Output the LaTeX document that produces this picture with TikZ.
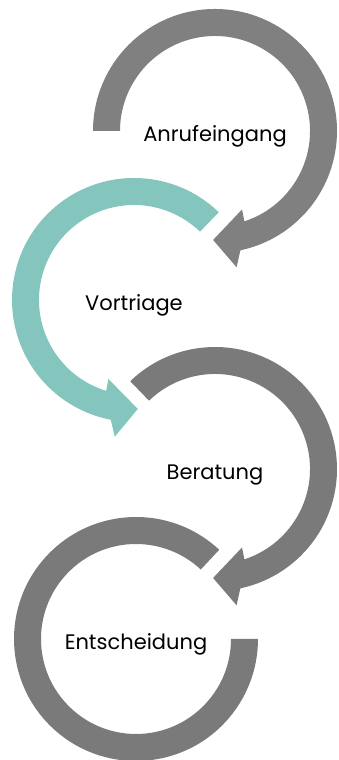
\documentclass[tikz,border=0pt]{standalone}
\usepackage{fontspec}
\setmainfont{Poppins}
\usepackage{tikz}

\definecolor{arrowgray}{RGB}{128,128,128}
\definecolor{arrowdark}{RGB}{122,122,122}
\definecolor{arrowteal}{RGB}{132,198,190}

\tikzset{
  stage label/.style={anchor=base, font=\fontsize{21}{25}\selectfont, text=black, inner sep=0pt}
}

\begin{document}
\begin{tikzpicture}[x=1pt, y=1pt]

\useasboundingbox (0,0) rectangle (339,760);

\coordinate (c1) at (215,629);
\coordinate (c2) at (134,460);
\coordinate (c3) at (215,291);
\coordinate (c4) at (136,121);

% arrows with heads: centre / start / tip / direction / colour
\foreach \c/\s/\t/\d/\col in {c1/180/-91/-1/arrowgray,c2/46/272/1/arrowteal,c3/134/-91/-1/arrowdark}
{
  \pgfmathsetmacro\oe{\t-(\d)*13}
  \pgfmathsetmacro\ob{\t-(\d)*10}
  \pgfmathsetmacro\ib{\t-(\d)*20}
  \pgfmathsetmacro\ie{\t-(\d)*19}
  \fill [\col, shift={(\c)}] (\s:122) arc [start angle=\s, end angle=\oe, radius=122]
    -- (\ob:138) -- (\t:109) -- (\ib:83) -- (\ie:95)
    arc [start angle=\ie, end angle=\s, radius=95] -- cycle;
}

% last arrow, no head
\fill [arrowdark, shift={(c4)}] (47:122) arc [start angle=47, end angle=360, radius=122]
  -- (0:95) arc [start angle=360, end angle=47, radius=95] -- cycle;

\foreach \c/\l [count=\i] in {c1/Anrufeingang,c2/Vortriage,c3/Beratung,c4/Entscheidung}
  \node [stage label] (stage-\i) at ([yshift=-11pt]\c) {\l};

\end{tikzpicture}
\end{document}
